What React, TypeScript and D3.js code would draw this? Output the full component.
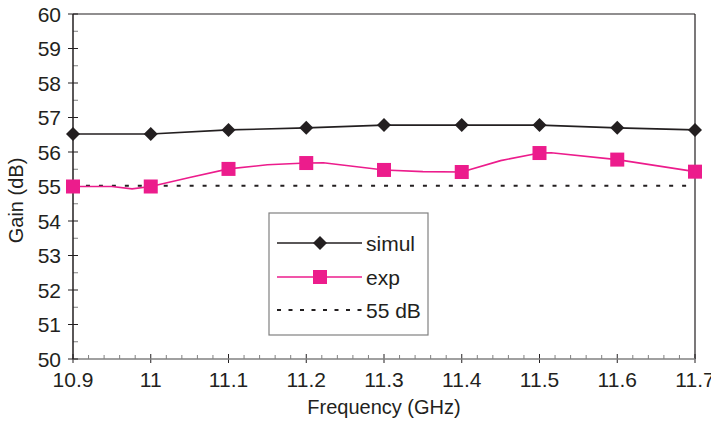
import React from "react";
import * as d3 from "d3";

// Frequency grid (GHz) of the marked points
const freqs = [10.9, 11.0, 11.1, 11.2, 11.3, 11.4, 11.5, 11.6, 11.7];
// Simulated gain (dB)
const simulGain = [56.52, 56.52, 56.64, 56.7, 56.78, 56.78, 56.78, 56.7, 56.64];
// Measured gain (dB) at the marked frequencies
const expGain = [55.0, 55.0, 55.51, 55.68, 55.48, 55.42, 55.97, 55.78, 55.43];
// Measured gain, finer trace between the markers
const expTraceFreq = [10.9, 10.95, 10.976, 11.0, 11.05, 11.1, 11.15, 11.2, 11.222, 11.3, 11.35, 11.4, 11.45, 11.5, 11.515, 11.6, 11.7];
const expTraceGain = [55.0, 55.0, 54.93, 55.0, 55.26, 55.51, 55.63, 55.68, 55.69, 55.48, 55.43, 55.42, 55.75, 55.97, 55.98, 55.78, 55.43];
// Reference level (dB)
const refLevel = 55.02;

const yTicks = [50, 51, 52, 53, 54, 55, 56, 57, 58, 59, 60];
const xTickLabels = ["10.9", "11", "11.1", "11.2", "11.3", "11.4", "11.5", "11.6", "11.7"];

const legendLabels = ["simul", "exp", "55 dB"];

const W = 711;
const H = 421;
const left = 73;
const right = 695;
const top = 14;
const bottom = 359;

const ink = "#231f20";
const pink = "#ec1c8c";
const axisGray = "#808080";
const font = "'Liberation Sans', Arial, Helvetica, sans-serif";

export default function App() {
  const x = d3.scaleLinear().domain([10.9, 11.7]).range([left, right]);
  const y = d3.scaleLinear().domain([50, 60]).range([bottom, top]);

  const line = d3
    .line<[number, number]>()
    .x((d) => x(d[0]))
    .y((d) => y(d[1]));

  const simulPts: [number, number][] = freqs.map((f, i) => [f, simulGain[i]]);
  const expPts: [number, number][] = freqs.map((f, i) => [f, expGain[i]]);
  const expTrace: [number, number][] = expTraceFreq.map((f, i) => [f, expTraceGain[i]]);

  const xMinor = d3.range(0, 41).map((i) => 10.9 + i * 0.02);
  const yMinor = d3.range(0, 21).map((i) => 50 + i * 0.5);

  const diamond = (cx: number, cy: number, r: number) =>
    `M${cx},${cy - r}L${cx + r},${cy}L${cx},${cy + r}L${cx - r},${cy}Z`;

  const sq = 14;
  const dr = 7;

  // legend geometry
  const lgX = 269;
  const lgY = 213;
  const lgW = 159;
  const lgH = 122;
  const rowY = [243, 277, 310];
  const lineX0 = 277;
  const lineX1 = 362;
  const markX = 320;
  const textX = 366;

  return (
    <svg
      width={W}
      height={H}
      style={{ position: "absolute", left: 0, top: 0, background: "#fff" }}
      fontFamily={font}
    >
      <rect x={0} y={0} width={W} height={H} fill="#fff" />

      {/* frame: top and right */}
      <line x1={left} x2={right} y1={top} y2={top} stroke={ink} strokeWidth={1.2} />
      <line x1={right} x2={right} y1={top} y2={bottom} stroke={ink} strokeWidth={1.2} />

      {/* x axis */}
      {xMinor.map((v, i) => (
        <line
          key={"xm" + i}
          x1={x(v)}
          x2={x(v)}
          y1={i % 5 === 0 ? bottom + 4 : bottom}
          y2={bottom - (i % 5 === 0 ? 5 : 4)}
          stroke={i % 5 === 0 ? ink : axisGray}
          strokeWidth={1}
        />
      ))}
      <line x1={left} x2={right} y1={bottom} y2={bottom} stroke={axisGray} strokeWidth={1.5} />
      {freqs.map((f, i) => (
        <text
          key={"xl" + i}
          x={x(f)}
          y={bottom + 28}
          textAnchor="middle"
          fontSize={21}
          fill={ink}
        >
          {xTickLabels[i]}
        </text>
      ))}
      <text x={(left + right) / 2} y={414} textAnchor="middle" fontSize={20} fill={ink}>
        Frequency (GHz)
      </text>

      {/* y axis */}
      {yMinor.map((v, i) =>
        i % 2 === 1 ? (
          <line key={"ym" + i} x1={left} x2={left + 5} y1={y(v)} y2={y(v)} stroke={axisGray} strokeWidth={1} />
        ) : null
      )}
      {yTicks.map((v) => (
        <line key={"yt" + v} x1={left - 5} x2={left + 5} y1={y(v)} y2={y(v)} stroke={ink} strokeWidth={1} />
      ))}
      <line x1={left} x2={left} y1={top} y2={bottom} stroke={ink} strokeWidth={1.5} />
      {yTicks.map((v) => (
        <text
          key={"yl" + v}
          x={left - 12}
          y={y(v) + 7.5}
          textAnchor="end"
          fontSize={21}
          fill={ink}
        >
          {v}
        </text>
      ))}
      <text
        transform={`translate(23,${(top + bottom) / 2 + 14}) rotate(-90)`}
        textAnchor="middle"
        fontSize={20}
        fill={ink}
      >
        Gain (dB)
      </text>

      {/* 55 dB reference */}
      <line
        x1={left}
        x2={right}
        y1={y(refLevel)}
        y2={y(refLevel)}
        stroke={ink}
        strokeWidth={2}
        strokeDasharray="4 8.96"
      />

      {/* simulated */}
      <path d={line(simulPts) || ""} fill="none" stroke={ink} strokeWidth={1.6} />
      {simulPts.map((p, i) => (
        <path key={"sd" + i} d={diamond(x(p[0]), y(p[1]), dr)} fill={ink} />
      ))}

      {/* measured */}
      <path d={line(expTrace) || ""} fill="none" stroke={pink} strokeWidth={1.6} />
      {expPts.map((p, i) => (
        <rect key={"es" + i} x={x(p[0]) - sq / 2} y={y(p[1]) - sq / 2} width={sq} height={sq} fill={pink} />
      ))}

      {/* legend */}
      <rect x={lgX} y={lgY} width={lgW} height={lgH} fill="#fff" stroke={axisGray} strokeWidth={1.2} />
      <line x1={lineX0} x2={lineX1} y1={rowY[0]} y2={rowY[0]} stroke={ink} strokeWidth={1.6} />
      <path d={diamond(markX, rowY[0], dr)} fill={ink} />
      <text x={textX} y={rowY[0] + 7.5} fontSize={21} fill={ink}>
        {legendLabels[0]}
      </text>
      <line x1={lineX0} x2={lineX1} y1={rowY[1]} y2={rowY[1]} stroke={pink} strokeWidth={1.6} />
      <rect x={markX - sq / 2} y={rowY[1] - sq / 2} width={sq} height={sq} fill={pink} />
      <text x={textX} y={rowY[1] + 7.5} fontSize={21} fill={ink}>
        {legendLabels[1]}
      </text>
      <line
        x1={lineX0}
        x2={lineX1}
        y1={rowY[2]}
        y2={rowY[2]}
        stroke={ink}
        strokeWidth={2}
        strokeDasharray="4 7.5"
      />
      <text x={textX} y={rowY[2] + 7.5} fontSize={21} fill={ink}>
        {legendLabels[2]}
      </text>
    </svg>
  );
}
